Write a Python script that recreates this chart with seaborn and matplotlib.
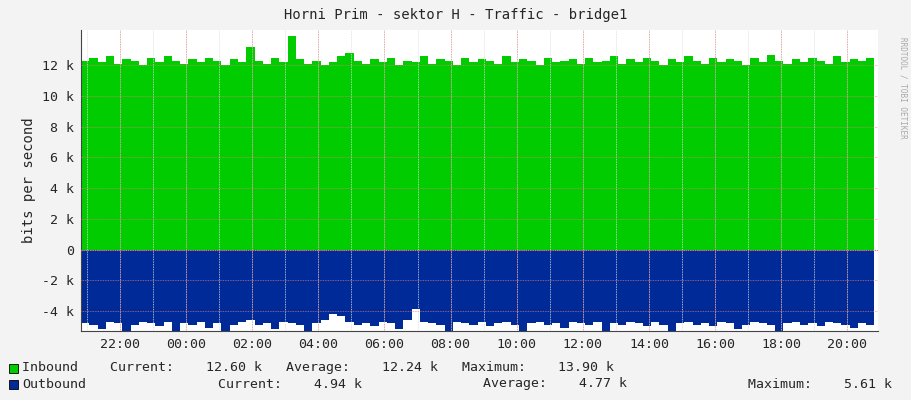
import numpy as np
import matplotlib
matplotlib.use("Agg")
import matplotlib.pyplot as plt
import seaborn as sns

sns.set_theme(style="white")
plt.rcParams['font.family'] = ['DejaVu Sans Mono']

# 15-minute samples starting at 20:49 (hours relative to 00:00)
start_hour = -3.18
step_hour = 0.25
inbound_k = [12.3,12.5,12.2,12.6,12.1,12.4,12.3,12.0,12.5,12.2,12.6,12.3,12.1,12.4,12.2,12.5,
             12.3,12.0,12.4,12.2,13.2,12.3,12.1,12.5,12.2,13.9,12.4,12.1,12.3,12.0,12.2,12.6,
             12.8,12.3,12.1,12.4,12.2,12.5,12.0,12.3,12.2,12.6,12.1,12.4,12.3,12.0,12.5,12.2,
             12.4,12.3,12.1,12.6,12.2,12.4,12.3,12.0,12.5,12.2,12.3,12.4,12.1,12.5,12.2,12.3,
             12.6,12.1,12.4,12.2,12.5,12.3,12.0,12.4,12.2,12.6,12.3,12.1,12.5,12.2,12.4,12.3,
             12.0,12.5,12.2,12.7,12.3,12.1,12.4,12.2,12.5,12.3,12.1,12.6,12.2,12.4,12.3,12.5,12.6]
outbound_k = [4.8,4.9,5.2,4.7,4.8,5.5,4.9,4.7,4.8,5.0,4.7,5.3,4.8,4.9,4.7,5.1,
              4.8,5.5,4.9,4.7,4.6,4.9,4.8,5.2,4.7,4.8,4.9,5.6,4.8,4.6,4.2,4.3,
              4.7,4.9,4.8,5.0,4.7,4.8,5.2,4.6,3.9,4.7,4.8,4.9,5.3,4.7,4.8,4.9,
              4.7,5.0,4.8,4.7,4.9,5.4,4.8,4.7,4.9,4.8,5.1,4.7,4.8,4.9,4.7,5.3,
              4.8,4.9,4.7,4.8,5.0,4.7,4.9,5.5,4.8,4.7,4.9,4.8,5.0,4.7,4.8,5.2,
              4.9,4.7,4.8,4.9,5.4,4.8,4.7,4.9,4.8,5.0,4.7,4.8,4.9,5.1,4.8,4.9,4.9]
tick_hours = [-2, 0, 2, 4, 6, 8, 10, 12, 14, 16, 18, 20]
tick_labels = ["22:00","00:00","02:00","04:00","06:00","08:00","10:00","12:00","14:00","16:00","18:00","20:00"]
ytick_vals = [-4000,-2000,0,2000,4000,6000,8000,10000,12000]
ytick_labels = ["-4 k","-2 k","0","2 k","4 k","6 k","8 k","10 k","12 k"]

t = start_hour + step_hour*np.arange(len(inbound_k))
inb = np.array(inbound_k)*1000
outb = -np.array(outbound_k)*1000

fig = plt.figure(figsize=(9.11, 4.0), dpi=100, facecolor="#F3F3F3")
ax = fig.add_axes([81/911, 69/400, 797/911, 301/400])
ax.set_facecolor("white")
ax.fill_between(t, 0, inb, step="post", color="#00CC00", linewidth=0)
ax.fill_between(t, 0, outb, step="post", color="#002A97", linewidth=0)
ax.set_xlim(-3.18, 20.93)
ax.set_ylim(-5300, 14300)
for h in range(-3, 21):
    ax.axvline(h, color="#DDDDDD", lw=0.6, ls=(0, (1, 1)), zorder=3)
for h in tick_hours:
    ax.axvline(h, color="#E08080", lw=0.6, ls=(0, (1, 1)), zorder=3, alpha=0.8)
for y in ytick_vals:
    ax.axhline(y, color="#E08080", lw=0.6, ls=(0, (1, 1)), zorder=3, alpha=0.8)
ax.axhline(0, color="#E08080", lw=0.8, ls=(0, (1, 1)), zorder=3)
ax.set_xticks(tick_hours)
ax.set_xticklabels(tick_labels, fontsize=9.5)
ax.set_yticks(ytick_vals)
ax.set_yticklabels(ytick_labels, fontsize=9.5)
ax.tick_params(length=2, color="#444444", pad=3)
for s in ["top", "right"]:
    ax.spines[s].set_visible(False)
for s in ["left", "bottom"]:
    ax.spines[s].set_color("#444444")
    ax.spines[s].set_linewidth(0.8)
ax.set_ylabel("bits per second", fontsize=10)
fig.text(0.5, 1-15/400, "Horni Prim - sektor H - Traffic - bridge1", ha="center", va="center", fontsize=10)
fig.text(903/911, 0.78, "RRDTOOL / TOBI OETIKER", rotation=270, ha="center", va="center", fontsize=5.5, color="#AAAAAA")

# legend
fig.patches.append(plt.Rectangle((9/911, 1-373/400), 9/911, 9/400, transform=fig.transFigure, fc="#00CC00", ec="black", lw=0.6))
fig.patches.append(plt.Rectangle((9/911, 1-389/400), 9/911, 9/400, transform=fig.transFigure, fc="#002A97", ec="black", lw=0.6))
fig.text(22/911, 1-368/400, "Inbound    Current:    12.60 k   Average:    12.24 k   Maximum:    13.90 k",
         fontsize=9.5, va="center")
fig.text(22/911, 1-384/400, "Outbound", fontsize=9.5, va="center")
fig.text(218/911, 1-384/400, "Current:    4.94 k", fontsize=9.5, va="center")
fig.text(483/911, 1-384/400, "Average:    4.77 k", fontsize=9.5, va="center")
fig.text(748/911, 1-384/400, "Maximum:    5.61 k", fontsize=9.5, va="center")

fig.savefig("out.png", dpi=100, facecolor=fig.get_facecolor())
